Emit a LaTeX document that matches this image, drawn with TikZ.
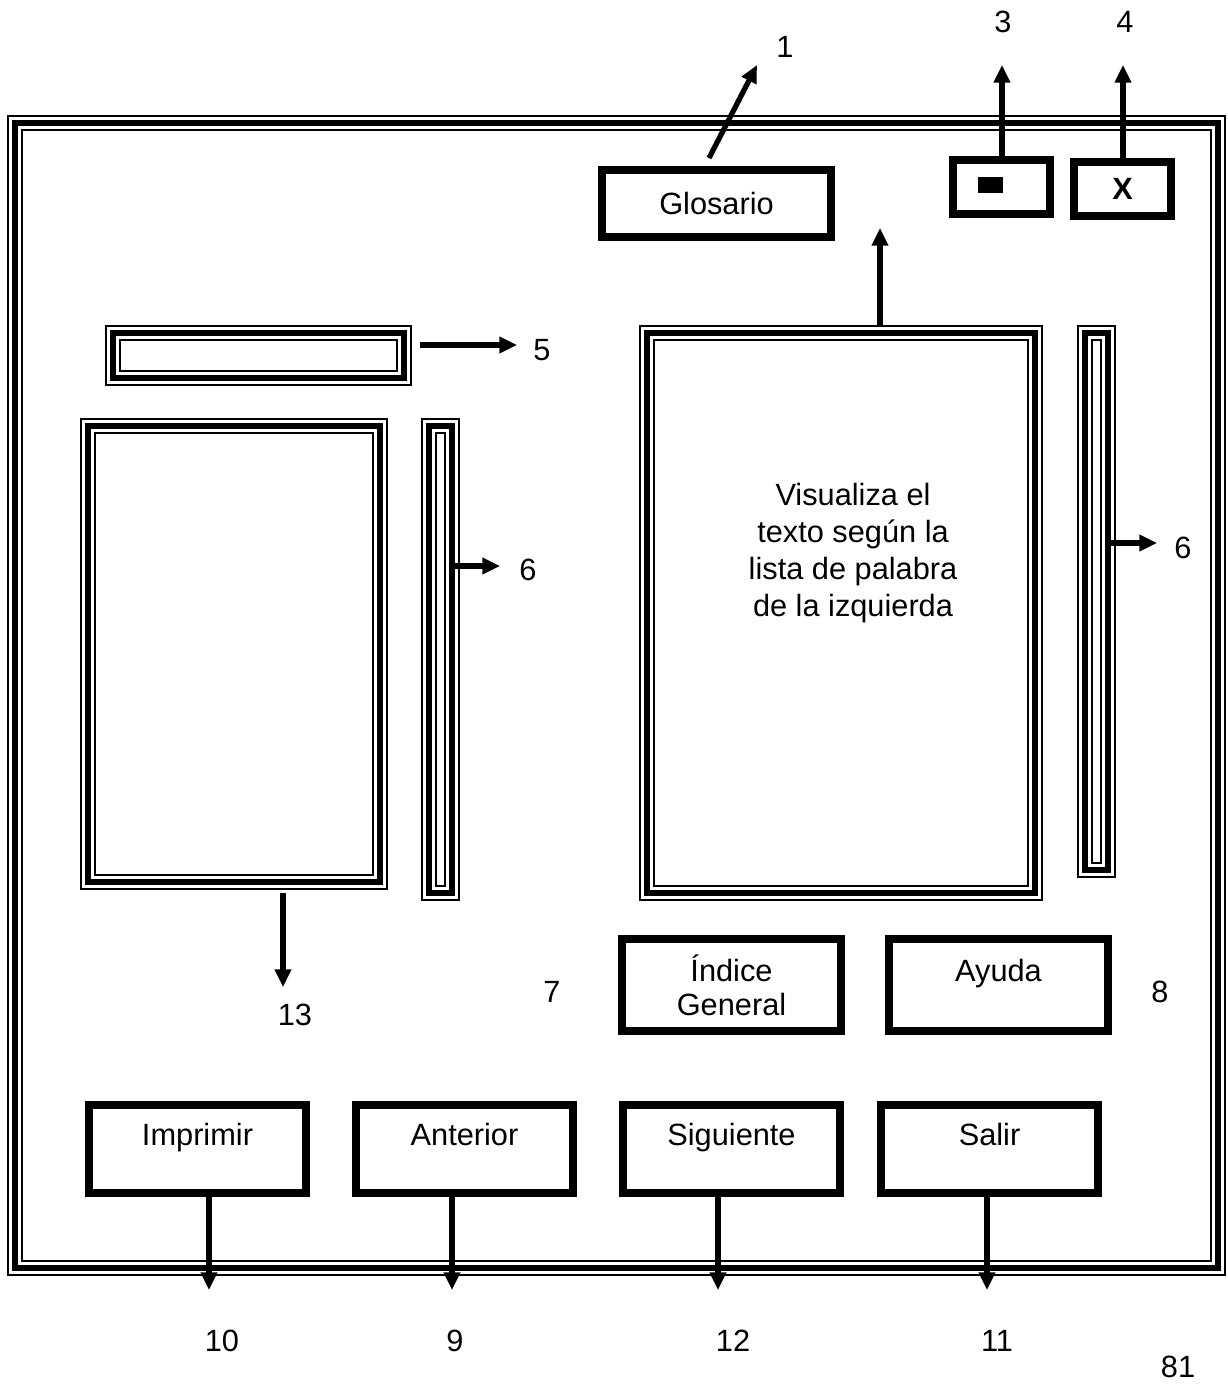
\documentclass[tikz,border=0pt]{standalone}
\usepackage{fontspec}
\setmainfont{Liberation Sans}
\usepackage{tikz}
\usetikzlibrary{arrows.meta, positioning}

\begin{document}
\begin{tikzpicture}[
	x=0.02cm, y=-0.02cm,
	font=\fontsize{17.5}{21}\selectfont,
	% Estilos de la ventana
	marco/.style={draw, line width=9pt, inner sep=0pt,
		postaction={draw=white, line width=7.2pt},
		postaction={draw=black, line width=3.6pt}},
	boton/.style={draw, line width=4.5pt, inner sep=0pt, align=center},
	arriba/.style={text height=0.38cm, text depth=0.54cm},
	flecha/.style={-{Triangle[length=10pt, width=9pt]}, line width=3pt},
	numero/.style={inner sep=0pt},
	]

	\useasboundingbox (0,0) rectangle (1227,1385);

	\node[marco, minimum width=24.06cm, minimum height=22.90cm] (ventana) at (616.5,695.5) {};

	\node[boton, minimum width=4.58cm, minimum height=1.34cm] (glosario) at (716.5,203.5) {Glosario};
	\node[boton, minimum width=1.94cm, minimum height=1.08cm] (minimizar) at (1001.5,187) {};
	\node[fill, inner sep=0pt, minimum width=0.5cm, minimum height=0.32cm] (icono) at (990.5,185) {};
	\node[boton, minimum width=1.94cm, minimum height=1.08cm] (cerrar) at (1122.5,189) {\textbf{X}};

	\node[marco, minimum width=5.82cm, minimum height=0.90cm] (barraSup) at (258.5,355.5) {};
	\node[marco, minimum width=5.84cm, minimum height=9.12cm] (panelIzq) at (234,654) {};
	\node[marco, minimum width=0.46cm, minimum height=9.34cm] (barraIzq) at (440.5,659.5) {};
	\node[marco, minimum width=7.76cm, minimum height=11.20cm] (panelDer) at (841,613) {};
	\node[align=center] (textoDer) at (853,553) {Visualiza el\\texto según la\\lista de palabra\\de la izquierda};
	\node[marco, minimum width=0.46cm, minimum height=10.74cm] (barraDer) at (1096.5,601.5) {};

	\node[boton, font=\fontsize{17.5}{19.5}\selectfont, minimum width=4.38cm, minimum height=1.84cm] (indice) at (731.5,985) {Índice\\General};
	\node[boton, arriba, minimum width=4.38cm, minimum height=1.84cm] (ayuda) at (998.5,985) {Ayuda};

	\node[boton, arriba, minimum width=4.34cm, minimum height=1.76cm] (imprimir) at (197.5,1149) {Imprimir};
	\node[boton, arriba, minimum width=4.34cm, minimum height=1.76cm] (anterior) at (464.5,1149) {Anterior};
	\node[boton, arriba, minimum width=4.34cm, minimum height=1.76cm] (siguiente) at (731.5,1149) {Siguiente};
	\node[boton, arriba, minimum width=4.34cm, minimum height=1.76cm] (salir) at (989.5,1149) {Salir};

	% numeros
	\node[numero] (n1) at (785,47) {1};
	\node[numero] (n3) at (1003,22) {3};
	\node[numero] (n4) at (1125,22) {4};
	\node[numero] (n5) at (542,350) {5};
	\node[numero] (n6a) at (528,570) {6};
	\node[numero] (n6b) at (1183,548) {6};
	\node[numero] (n7) at (552,992) {7};
	\node[numero] (n8) at (1160,992) {8};
	\node[numero] (n13) at (295,1015) {13};
	\node[numero] (n10) at (222,1341) {10};
	\node[numero] (n9) at (455,1341) {9};
	\node[numero] (n12) at (733,1341) {12};
	\node[numero] (n11) at (997,1341) {11};
	\node[numero] (pagina) at (1178,1367) {81};

	\coordinate (p1) at (757,65);
	\coordinate (p3) at (1002,65);
	\coordinate (p4) at (1123,65);
	\coordinate (pArriba) at (880,228);
	\coordinate (p5) at (517,345);
	\coordinate (p6a) at (500,566);
	\coordinate (p6b) at (1157,543);
	\coordinate (p13) at (283,987);
	\coordinate (p10) at (209,1290);
	\coordinate (p9) at (452,1290);
	\coordinate (p12) at (718,1290);
	\coordinate (p11) at (987,1290);

	\draw[flecha] ([xshift=-0.15cm, yshift=0.16cm]glosario.north) -- (p1);
	\draw[flecha] (p3 |- minimizar.north) -- (p3);
	\draw[flecha] (p4 |- cerrar.north) -- (p4);
	\draw[flecha] (pArriba |- panelDer.north) -- (pArriba);
	\draw[flecha, shorten <=0.16cm] (barraSup.east |- p5) -- (p5);
	\draw[flecha, shorten <=-0.14cm] (barraIzq.east |- p6a) -- (p6a);
	\draw[flecha, shorten <=-0.12cm] (barraDer.east |- p6b) -- (p6b);
	\draw[flecha, shorten <=0.06cm] (p13 |- panelIzq.south) -- (p13);
	\draw[flecha] (p10 |- imprimir.south) -- (p10);
	\draw[flecha] (p9 |- anterior.south) -- (p9);
	\draw[flecha] (p12 |- siguiente.south) -- (p12);
	\draw[flecha] (p11 |- salir.south) -- (p11);

\end{tikzpicture}
\end{document}
